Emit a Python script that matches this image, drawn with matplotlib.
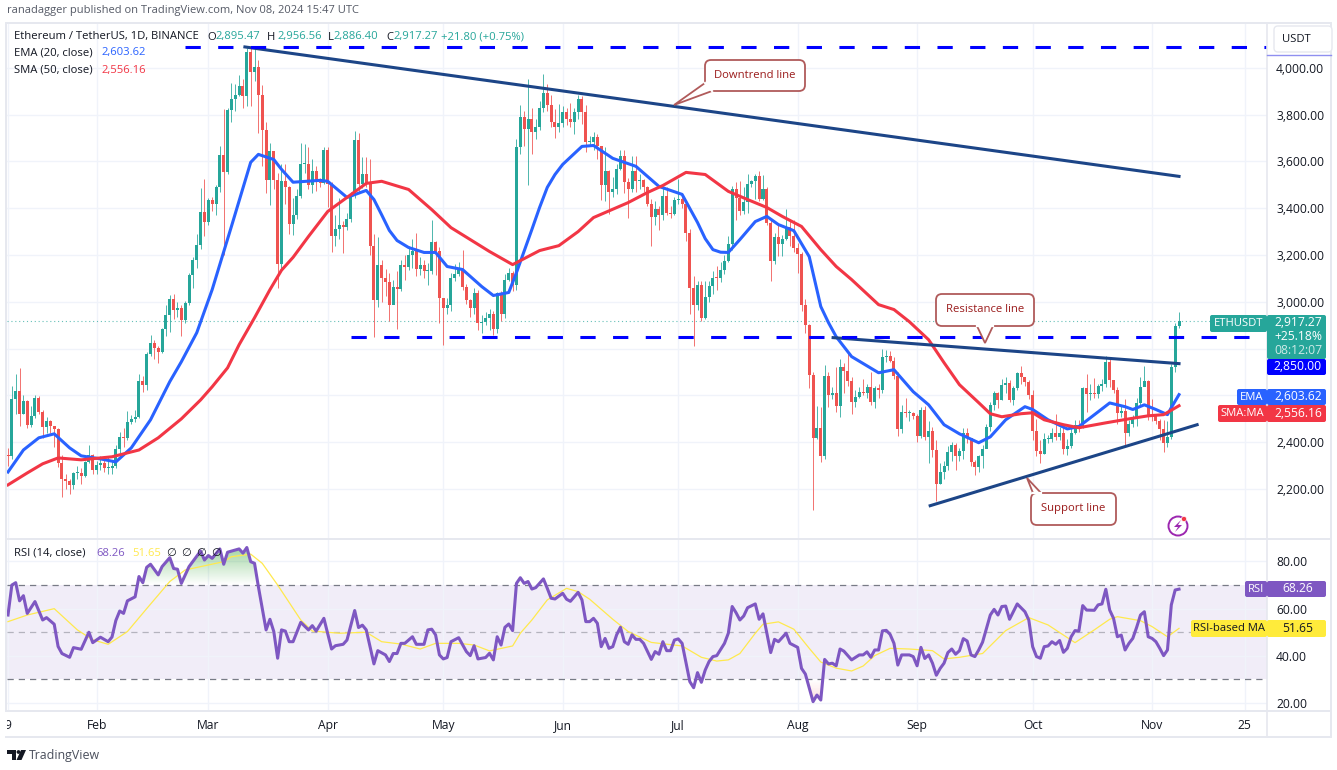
import matplotlib
matplotlib.use('Agg')
import matplotlib.pyplot as plt
from matplotlib.patches import FancyBboxPatch, Polygon, Rectangle, Circle
import numpy as np

plt.rcParams['font.family'] = ['Open Sans', 'DejaVu Sans']

# daily candles, day 0 = Jan 9 2024, one row per month
close = [
    2340, 2585, 2617, 2522, 2576, 2472, 2511, 2587, 2530, 2467, 2490, 2470, 2455, 2313, 2241, 2235, 2218, 2268, 2268, 2258, 2317, 2344, 2283,
    2305, 2311, 2289, 2291, 2300, 2373, 2424, 2420, 2487, 2501, 2507, 2660, 2643, 2778, 2825, 2803, 2786, 2882, 2945, 3014, 2967, 2972, 2923, 2994, 3114, 3178, 3243, 3385, 3341,
    3434, 3420, 3489, 3628, 3553, 3818, 3868, 3885, 3921, 3878, 4067, 3982, 4005, 3883, 3735, 3522, 3643, 3520, 3160, 3515, 3492, 3331, 3370, 3453, 3590, 3590, 3500, 3561, 3510, 3507, 3647,
    3505, 3280, 3312, 3330, 3320, 3352, 3455, 3693, 3503, 3546, 3505, 3240, 3007, 3157, 3101, 3085, 2985, 3064, 3056, 3157, 3148, 3201, 3219, 3139, 3157, 3130, 3133, 3257, 3217, 3015,
    2972, 2988, 3103, 3117, 3137, 3064, 3006, 2974, 3037, 2911, 2912, 2930, 2950, 2882, 3037, 2946, 3094, 3122, 3073, 3662, 3790, 3740, 3782, 3727, 3749, 3826, 3893, 3842, 3768, 3747, 3762,
    3813, 3780, 3768, 3811, 3866, 3811, 3681, 3682, 3705, 3666, 3498, 3560, 3470, 3481, 3566, 3622, 3510, 3483, 3560, 3516, 3520, 3490, 3420, 3361, 3397, 3370, 3451, 3378, 3375, 3435,
    3440, 3420, 3295, 3060, 2985, 3070, 2930, 3020, 3066, 3102, 3100, 3135, 3176, 3245, 3484, 3443, 3389, 3426, 3505, 3517, 3536, 3441, 3481, 3336, 3175, 3275, 3247, 3270, 3318, 3280, 3232,
    3203, 2987, 2902, 2688, 2420, 2461, 2342, 2682, 2600, 2610, 2555, 2723, 2703, 2662, 2570, 2592, 2615, 2612, 2636, 2572, 2630, 2623, 2763, 2768, 2746, 2682, 2457, 2529, 2527, 2527, 2513,
    2425, 2537, 2423, 2450, 2367, 2222, 2273, 2297, 2358, 2388, 2340, 2361, 2440, 2417, 2316, 2295, 2340, 2370, 2465, 2560, 2612, 2580, 2645, 2653, 2580, 2632, 2695, 2677, 2659, 2603,
    2447, 2364, 2350, 2414, 2415, 2440, 2422, 2440, 2370, 2385, 2440, 2475, 2470, 2630, 2607, 2611, 2605, 2642, 2647, 2745, 2665, 2622, 2525, 2535, 2438, 2480, 2507, 2568, 2638, 2660, 2518,
    2512, 2492, 2458, 2398, 2422, 2720, 2895.47, 2917.27,
]
high = [
    2375, 2640, 2690, 2716, 2600, 2580, 2555, 2600, 2598, 2540, 2510, 2495, 2465, 2460, 2345, 2265, 2245, 2275, 2300, 2290, 2320, 2390, 2352,
    2320, 2340, 2325, 2335, 2325, 2390, 2445, 2460, 2535, 2515, 2540, 2690, 2685, 2785, 2860, 2835, 2810, 2890, 2985, 3030, 3035, 3000, 2985, 3005, 3125, 3190, 3290, 3485, 3525,
    3445, 3450, 3500, 3665, 3825, 3830, 3935, 3930, 3970, 3950, 4085, 4093, 4085, 4035, 3925, 3770, 3680, 3615, 3550, 3590, 3590, 3495, 3445, 3480, 3680, 3675, 3660, 3610, 3580, 3530, 3660,
    3660, 3510, 3370, 3445, 3345, 3380, 3470, 3730, 3720, 3620, 3620, 3610, 3290, 3275, 3180, 3140, 3125, 3095, 3130, 3180, 3200, 3240, 3270, 3295, 3190, 3180, 3165, 3350, 3260, 3235,
    3015, 3015, 3125, 3160, 3170, 3220, 3075, 3010, 3060, 3050, 2945, 2955, 2970, 2960, 3040, 3045, 3120, 3145, 3130, 3695, 3840, 3815, 3950, 3830, 3780, 3860, 3975, 3930, 3885, 3825, 3845,
    3835, 3830, 3850, 3830, 3885, 3880, 3840, 3710, 3725, 3715, 3665, 3660, 3565, 3535, 3590, 3650, 3650, 3530, 3625, 3625, 3545, 3525, 3495, 3440, 3430, 3410, 3485, 3490, 3410, 3450,
    3525, 3465, 3425, 3310, 3110, 3090, 3090, 3090, 3090, 3130, 3155, 3170, 3200, 3280, 3495, 3510, 3515, 3490, 3545, 3520, 3545, 3560, 3540, 3490, 3355, 3295, 3330, 3285, 3395, 3355, 3350,
    3250, 3215, 3010, 2905, 2700, 2555, 2550, 2730, 2700, 2635, 2720, 2755, 2740, 2780, 2680, 2625, 2635, 2670, 2650, 2700, 2640, 2650, 2800, 2795, 2790, 2765, 2700, 2560, 2590, 2540, 2530,
    2520, 2550, 2555, 2490, 2465, 2410, 2310, 2320, 2385, 2400, 2395, 2375, 2460, 2460, 2415, 2325, 2345, 2390, 2480, 2570, 2620, 2615, 2670, 2680, 2665, 2640, 2700, 2725, 2670, 2665,
    2625, 2500, 2410, 2440, 2430, 2460, 2520, 2465, 2465, 2415, 2465, 2495, 2495, 2635, 2690, 2650, 2675, 2650, 2670, 2770, 2760, 2640, 2635, 2560, 2585, 2495, 2515, 2590, 2680, 2725, 2665,
    2585, 2520, 2500, 2495, 2490, 2735, 2910, 2956.56,
]
low = [
    2300, 2330, 2520, 2470, 2520, 2460, 2465, 2505, 2520, 2420, 2440, 2440, 2380, 2295, 2165, 2200, 2180, 2200, 2245, 2220, 2250, 2310, 2263,
    2265, 2280, 2275, 2265, 2265, 2290, 2355, 2380, 2410, 2480, 2485, 2505, 2615, 2625, 2770, 2755, 2740, 2780, 2855, 2870, 2925, 2935, 2855, 2910, 2985, 3060, 3145, 3225, 3280,
    3330, 3390, 3370, 3470, 3200, 3545, 3770, 3815, 3880, 3830, 3835, 3835, 3945, 3720, 3580, 3465, 3415, 3480, 3060, 3135, 3420, 3290, 3285, 3355, 3445, 3550, 3480, 3465, 3475, 3490, 3505,
    3405, 3215, 3240, 3270, 3210, 3305, 3340, 3445, 3465, 3485, 3490, 3200, 2850, 2980, 3000, 3025, 2920, 2990, 2885, 3045, 3095, 3135, 3145, 3110, 3115, 3100, 3070, 3120, 3115, 2910,
    2815, 2950, 2960, 3090, 3110, 3050, 2990, 2935, 2950, 2880, 2865, 2900, 2880, 2860, 2865, 2920, 2930, 3090, 3045, 3050, 3630, 3665, 3500, 3630, 3695, 3735, 3810, 3815, 3745, 3700, 3725,
    3745, 3755, 3745, 3715, 3780, 3760, 3640, 3665, 3650, 3610, 3435, 3430, 3375, 3450, 3460, 3565, 3465, 3360, 3470, 3470, 3480, 3470, 3410, 3240, 3330, 3305, 3350, 3370, 3360, 3370,
    3420, 3400, 3260, 2950, 2810, 2965, 2920, 2925, 3000, 3035, 3050, 3085, 3120, 3170, 3220, 3350, 3370, 3375, 3380, 3490, 3440, 3430, 3435, 3330, 3090, 3160, 3195, 3195, 3265, 3240, 3215,
    3125, 2960, 2865, 2630, 2111, 2415, 2315, 2330, 2550, 2585, 2530, 2510, 2610, 2640, 2520, 2550, 2590, 2600, 2590, 2560, 2545, 2590, 2610, 2745, 2745, 2670, 2425, 2440, 2510, 2490, 2500,
    2400, 2420, 2410, 2310, 2335, 2150, 2220, 2245, 2280, 2320, 2280, 2320, 2330, 2395, 2300, 2260, 2275, 2290, 2375, 2450, 2540, 2545, 2580, 2610, 2570, 2560, 2625, 2650, 2640, 2585,
    2410, 2340, 2310, 2350, 2395, 2400, 2410, 2410, 2350, 2345, 2375, 2435, 2445, 2460, 2530, 2580, 2590, 2590, 2620, 2635, 2635, 2610, 2480, 2510, 2380, 2425, 2465, 2470, 2560, 2640, 2495,
    2490, 2480, 2410, 2357, 2380, 2415, 2700, 2886.40,
]
first_open = 2346

ema_days = [0, 4, 8, 12, 16, 19, 24, 28, 32, 37, 42, 45, 49, 53, 58, 63, 65, 69, 71, 74, 81, 83, 88, 93, 95, 97, 99, 101, 104, 108, 111, 114, 118, 123, 126, 130, 132, 136, 138, 140, 142, 144, 149, 152, 157, 163, 169, 175, 179, 181, 183, 185, 187, 190, 194, 197, 200, 204, 208, 211, 213, 215, 219, 226, 230, 235, 239, 243, 247, 252, 255, 259, 264, 266, 270, 275, 278, 283, 286, 290, 292, 295, 298, 301, 302, 304]
ema_vals = [2273, 2367, 2419, 2436, 2376, 2342, 2329, 2316, 2376, 2496, 2659, 2744, 2868, 3052, 3322, 3596, 3630, 3608, 3566, 3511, 3519, 3515, 3446, 3476, 3437, 3372, 3305, 3262, 3232, 3211, 3211, 3151, 3138, 3065, 3027, 3040, 3125, 3309, 3403, 3489, 3544, 3587, 3664, 3668, 3613, 3579, 3493, 3459, 3339, 3270, 3223, 3212, 3211, 3266, 3343, 3365, 3330, 3304, 3193, 2980, 2911, 2851, 2766, 2697, 2710, 2616, 2560, 2475, 2436, 2398, 2423, 2496, 2552, 2540, 2496, 2457, 2467, 2530, 2568, 2552, 2540, 2560, 2540, 2518, 2548, 2603.62]
sma_days = [0, 5, 9, 13, 19, 27, 34, 39, 45, 50, 53, 57, 60, 64, 68, 71, 74, 78, 83, 88, 93, 97, 104, 110, 115, 120, 125, 131, 138, 143, 148, 152, 161, 166, 170, 176, 181, 187, 192, 197, 201, 206, 211, 215, 219, 226, 230, 234, 239, 243, 247, 252, 255, 258, 263, 266, 269, 274, 278, 285, 291, 296, 300, 304]
sma_vals = [2218, 2269, 2308, 2333, 2325, 2338, 2367, 2419, 2500, 2581, 2637, 2718, 2817, 2932, 3052, 3135, 3190, 3279, 3386, 3446, 3506, 3515, 3480, 3394, 3317, 3266, 3215, 3159, 3219, 3240, 3300, 3360, 3424, 3467, 3497, 3553, 3544, 3472, 3437, 3403, 3365, 3322, 3223, 3151, 3095, 2988, 2967, 2915, 2838, 2740, 2646, 2569, 2522, 2509, 2522, 2526, 2496, 2475, 2462, 2483, 2500, 2513, 2518, 2556.16]

rsi_days = [0, 1, 2, 3, 4, 5, 7, 9, 10, 12, 13, 14, 16, 17, 19, 21, 22, 24, 26, 27, 28, 29, 30, 31, 33, 34, 35, 36, 37, 39, 40, 42, 43, 44, 45, 46, 47, 50, 51, 52, 53, 55, 56, 57, 60, 61, 62, 63, 64, 65, 67, 68, 69, 70, 71, 72, 73, 74, 76, 78, 79, 80, 82, 84, 85, 87, 88, 90, 91, 92, 93, 95, 96, 98, 99, 100, 101, 102, 103, 105, 106, 108, 109, 110, 111, 112, 113, 114, 115, 117, 119, 120, 121, 122, 124, 125,
            126, 127, 128, 129, 130, 131, 132, 133, 134, 135, 136, 137, 139, 140, 141, 142, 144, 145, 146, 148, 149, 150, 151, 152, 153, 154, 155, 156, 157, 158, 159, 160, 161, 162, 163, 164, 165, 167, 168, 169, 170, 171, 172, 173, 174, 175, 177, 178, 179, 180, 181, 182, 183, 184, 186, 187, 188, 189, 190, 191, 192, 194, 195, 196, 197, 198, 199, 200, 202, 203, 205, 206, 207, 209, 210, 211,
            212, 213, 214, 215, 216, 217, 219, 221, 222, 223, 224, 225, 226, 227, 228, 229, 230, 231, 232, 234, 235, 236, 237, 238, 239, 240, 241, 242, 243, 244, 245, 246, 247, 248, 249, 250, 251, 252, 253, 255, 256, 257, 258, 259, 260, 262, 264, 265, 266, 267, 268, 269, 270, 271, 272, 273, 274, 275, 276, 277, 278, 279, 280, 282, 283, 284, 285, 286, 287, 288, 289, 290, 291, 292, 293, 294, 295, 296, 297, 298, 299, 300, 301, 302, 303, 304]
rsi_vals = [57.3, 70, 71, 63.3, 65.5, 58, 63, 55.2, 56.2, 53.4, 44, 41, 39.4, 43.5, 42.8, 50, 45.6, 47.9, 46, 48, 55, 59, 58, 63.3, 65, 73.6, 71, 77.5, 78.8, 74.3, 77.8, 81.6, 77, 76.7, 70.7, 74.3, 77.8, 84.4, 80.6, 82.5, 81.3, 85.3, 78.8, 83.9, 85.3, 83.5, 85.9, 79.9, 79.2, 69.3, 51, 55.5, 50.3, 39, 51, 50.5, 46, 46, 54.2, 51, 52.8, 50.5, 55.9, 42.9, 44.3, 44.9, 46.7, 59.2, 52, 53, 51, 36.6, 42.2, 40.4, 37.6, 41, 41, 45.3, 45.3, 48.1, 44.9, 44.9, 51, 51.3, 48.9, 40.4, 38.7, 39.3, 46, 47.7, 41.8, 40.1, 44.3, 38.7, 39.3, 41.1,
            38.3, 48.1, 44.6, 52.1, 53.5, 50.7, 70.7, 73.1, 70.7, 71.5, 68.3, 68.9, 72.6, 68.6, 64.4, 64.1, 66.5, 64, 63.1, 66.9, 63.7, 54.5, 54.5, 55.9, 53.8, 43.9, 47.4, 43.2, 43.9, 48.9, 52.1, 46, 44.9, 48.9, 47, 47, 45.3, 38.5, 41.8, 40.7, 46, 42.2, 42.2, 46.7, 47.2, 45.3, 29.1, 26.5, 32.9, 28.8, 34, 37.6, 39.7, 40.1, 45.3, 49.6, 60.9, 58.3, 55.2, 56.9, 60.4, 62, 55.5, 57.8, 49.6, 41.4, 47, 46, 49.6, 45.3, 43.6, 34.7, 32.3, 20.6, 23.4, 21.3,
            38.5, 36.6, 36.9, 35.8, 42.9, 42, 38.3, 40.4, 40.4, 41.7, 39.4, 42.5, 42.5, 50.6, 50.8, 49.1, 45.3, 36.1, 40.4, 40.4, 39.7, 35.8, 43.6, 38.9, 40.4, 36.9, 31.8, 34.7, 36.9, 41.4, 42.9, 40.7, 42.2, 47.3, 46.3, 40.4, 39.7, 42.5, 45.8, 57.3, 59.7, 57.3, 60.9, 61.1, 55.5, 62, 58.7, 55.2, 43.9, 39.7, 39, 43.9, 44.2, 46, 44.9, 46.5, 41.5, 43.2, 48.1, 50.7, 50.5, 61.3, 59.4, 59.3, 61.6, 62, 68.2, 59.4, 55.9, 48.1, 48.8, 42.5, 45.3, 47.4, 52.1, 57.3, 58.7, 48.1, 47.4, 46, 43.2, 40.1, 42.5, 61.6, 67.9, 68.26]
rsi_ma_days = [0, 5, 12, 14, 18, 22, 26, 31, 36, 42, 46, 50, 56, 58, 63, 66, 70, 76, 79, 86, 93, 97, 102, 107, 111, 117, 121, 125, 131, 133, 136, 140, 145, 148, 151, 157, 161, 167, 175, 180, 184, 187, 190, 194, 196, 200, 204, 208, 211, 215, 219, 222, 225, 229, 234, 240, 243, 247, 253, 259, 265, 270, 277, 282, 286, 288, 294, 297, 301, 304]
rsi_ma_vals = [54.5, 57.3, 60, 57, 51, 46.8, 44.9, 50.3, 60, 71.5, 76.4, 77.8, 79.9, 82, 83.1, 79.2, 70, 55.2, 50.5, 49.6, 50, 46, 45, 42.9, 45.3, 45.3, 44.6, 42.1, 44.2, 49.6, 55.2, 63.7, 68.6, 67.2, 64, 55.5, 50.3, 45.7, 44.2, 39.4, 37.8, 38.3, 41, 49.6, 53.4, 54.4, 51.3, 43.2, 37.4, 34.8, 33.6, 35.7, 40.1, 43.2, 42.9, 42.2, 38.7, 39.4, 41, 50.7, 56.2, 53.1, 45.6, 51, 55.5, 56.6, 54.9, 52.4, 48.1, 51.65]

price_ticks = [2200, 2400, 2600, 2800, 3000, 3200, 3400, 3600, 3800, 4000]
price_labels = ['2,200.00', '2,400.00', '', '', '3,000.00', '3,200.00', '3,400.00', '3,600.00', '3,800.00', '4,000.00']
rsi_ticks = [20, 40, 60, 80]
month_days = [0, 23, 52, 83, 113, 144, 174, 205, 236, 266, 297, 321]
month_labels = ['9', 'Feb', 'Mar', 'Apr', 'May', 'Jun', 'Jul', 'Aug', 'Sep', 'Oct', 'Nov', '25']

# levels and trend lines drawn on the chart
top_level = 4088
resistance_level = 2850
downtrend_days, downtrend_vals = [61.5, 304], [4089, 3536]
resistance_days, resistance_vals = [214.2, 304], [2847, 2736]
support_days, support_vals = [239.4, 308.7], [2129, 2475]

GREEN, RED = '#26a69a', '#ef5350'
EMA_C, SMA_C, RSI_C = '#2962ff', '#f23645', '#7e57c2'
TREND_C, LEVEL_C = '#1c4587', '#0000ff'
GRID_C, FRAME_C = '#f0f3fa', '#e6e8ef'
TEXT_C = '#131722'
W, H = 1337, 770


def px_axes(x0, y0, x1, y1):
    return fig.add_axes([x0 / W, 1 - y1 / H, (x1 - x0) / W, (y1 - y0) / H])


fig = plt.figure(figsize=(W / 100, H / 100), dpi=100, facecolor='white')
ax = px_axes(7, 24, 1267, 538)
ax_rsi = px_axes(7, 539, 1267, 711)

close = np.array(close, dtype=float)
high = np.array(high, dtype=float)
low = np.array(low, dtype=float)
opn = np.concatenate([[first_open], close[:-1]])
days = np.arange(len(close))
colors = np.where(close >= opn, GREEN, RED)

ax.vlines(days, low, high, colors=colors, lw=0.72, alpha=0.8, zorder=2)
ax.bar(days, np.maximum(np.abs(close - opn), 4), bottom=np.minimum(close, opn), width=0.78, color=colors, lw=0, zorder=3)
ax.plot(ema_days, ema_vals, color=EMA_C, lw=2.2, zorder=4)
ax.plot(sma_days, sma_vals, color=SMA_C, lw=2.2, zorder=4)
ax.axhline(close[-1], color=GREEN, lw=0.8, ls=(0, (1, 2.5)), alpha=0.7, zorder=1)
ax.plot(downtrend_days, downtrend_vals, color=TREND_C, lw=2.2, zorder=5)
ax.plot(resistance_days, resistance_vals, color=TREND_C, lw=2.2, zorder=5)
ax.plot(support_days, support_vals, color=TREND_C, lw=2.2, zorder=5)
ax.plot([46, 327], [top_level, top_level], color=LEVEL_C, lw=2.2, ls=(0, (5, 5.7)), zorder=6)
ax.plot([89, 327], [resistance_level, resistance_level], color=LEVEL_C, lw=2.2, ls=(0, (5, 5.7)), zorder=6)

ax.set_xlim(-0.26, 326.84)
ax.set_ylim(1991, 4187)
ax.set_yticks(price_ticks)
ax.set_yticklabels(price_labels)
ax.yaxis.tick_right()
ax.set_xticks(month_days)
ax.tick_params(axis='x', length=0, labelbottom=False)
ax.tick_params(axis='y', length=0, labelsize=8.7, labelcolor=TEXT_C, pad=6.5)
ax.grid(color=GRID_C, lw=1)
ax.set_axisbelow(True)

# RSI pane
ax_rsi.axhspan(30, 70, color=RSI_C, alpha=0.1, lw=0, zorder=0)
ax_rsi.axhline(70, color='#787b86', lw=0.9, ls=(0, (5, 4)), zorder=1)
ax_rsi.axhline(50, color='#787b86', lw=0.9, ls=(0, (5, 4)), alpha=0.5, zorder=1)
ax_rsi.axhline(30, color='#787b86', lw=0.9, ls=(0, (5, 4)), zorder=1)

# overbought / oversold gradients, clipped to the area past the RSI line
for level, far, rgb, peak in [(70, 88, (0.3, 0.69, 0.31), 0.6), (30, 20, (0.95, 0.3, 0.3), 0.2)]:
    if level == 70:
        edge = np.maximum(rsi_vals, level)
    else:
        edge = np.minimum(rsi_vals, level)
    poly = Polygon(np.column_stack([np.r_[rsi_days, rsi_days[::-1]], np.r_[edge, np.full(len(edge), level)]]),
                   transform=ax_rsi.transData, fc='none', ec='none')
    ax_rsi.add_patch(poly)
    grad = np.zeros((64, 2, 4))
    grad[..., :3] = rgb
    grad[..., 3] = np.linspace(peak, 0, 64)[:, None]
    im = ax_rsi.imshow(grad, extent=[0, 304, level, far], aspect='auto', zorder=2)
    im.set_clip_path(poly)
ax_rsi.set_xlim(-0.26, 326.84)
ax_rsi.set_ylim(16.65, 89.5)

ax_rsi.plot(rsi_ma_days, rsi_ma_vals, color='#ffe94d', lw=0.9, zorder=3)
ax_rsi.plot(rsi_days, rsi_vals, color=RSI_C, lw=2.2, zorder=4)
ax_rsi.set_yticks(rsi_ticks)
ax_rsi.set_yticklabels(['20.00', '40.00', '60.00', '80.00'])
ax_rsi.yaxis.tick_right()
ax_rsi.set_xticks(month_days)
ax_rsi.set_xticklabels(month_labels)
ax_rsi.tick_params(axis='x', length=0, labelsize=8.7, labelcolor=TEXT_C, pad=6)
ax_rsi.tick_params(axis='y', length=0, labelsize=8.7, labelcolor=TEXT_C, pad=6.5)
ax_rsi.grid(color=GRID_C, lw=1)
ax_rsi.set_axisbelow(True)
for a in (ax, ax_rsi):
    for s in a.spines.values():
        s.set_visible(False)

# overlay in picture pixels for the frame, legends, tags and callouts
ov = fig.add_axes([0, 0, 1, 1], zorder=10)
ov.set_xlim(0, W)
ov.set_ylim(H, 0)
ov.axis('off')


def label(x, y, s, color=TEXT_C, size=8.1, ha='left', **kw):
    ov.text(x, y, s, color=color, fontsize=size, ha=ha, va='center', **kw)


def tag(x0, x1, y0, y1, color):
    ov.add_patch(FancyBboxPatch((x0, y0), x1 - x0, y1 - y0, boxstyle='round,pad=0,rounding_size=2', fc=color, ec='none', zorder=3))


def callout(x0, y0, x1, y1, pointer, base, text):
    ov.add_patch(FancyBboxPatch((x0, y0), x1 - x0, y1 - y0, boxstyle='round,pad=0,rounding_size=6', fc='white', ec='#b05a5a', lw=1.3, zorder=6))
    ov.add_patch(Polygon([base[0], pointer, base[1]], closed=False, fc='white', ec='#b05a5a', lw=1.3, zorder=7))
    ov.plot([base[0][0], base[1][0]], [base[0][1], base[1][1]], color='white', lw=1.6, zorder=8)
    label((x0 + x1) / 2, (y0 + y1) / 2, text, color='#9b1c1c', ha='center', zorder=9)


# frame
ov.add_patch(Rectangle((6, 23), 1325, 714, fc='none', ec=FRAME_C, lw=1.4))
ov.plot([6, 1331], [538.5, 538.5], color=FRAME_C, lw=1.4)
ov.plot([6, 1331], [711, 711], color=FRAME_C, lw=1.4)
ov.plot([1267, 1267], [23, 737], color=FRAME_C, lw=1.2)
ov.add_patch(Rectangle((0, 712), 6.5, 24, fc='white', ec='none', zorder=5))

# header and legends
label(7, 10.5, 'ranadagger published on TradingView.com, Nov 08, 2024 15:47 UTC', color='#555a66', size=8.05)
label(14, 37, 'Ethereum / TetherUS, 1D, BINANCE')
for x, s, x2, v in [(207, 'O', 215, '2,895.47'), (267, 'H', 277, '2,956.56'), (328, 'L', 334, '2,886.40'), (386, 'C', 393, '2,917.27')]:
    label(x, 37, s)
    label(x2, 37, v, color=GREEN)
label(441, 37, '+21.80 (+0.75%)', color=GREEN)
label(14, 53, 'EMA (20, close)')
label(102, 53, '2,603.62', color=EMA_C)
label(14, 70, 'SMA (50, close)')
label(101, 70, '2,556.16', color=SMA_C)
label(14, 553, 'RSI (14, close)')
label(96, 553, '68.26', color=RSI_C)
label(132, 553, '51.65', color='#ffe94d')
for x in [171, 186, 201, 216]:
    label(x, 553, '\u2205', ha='center')

# callouts
callout(705, 60, 805, 91, (674, 105), ((705, 83), (712, 91)), 'Downtrend line')
callout(936, 294, 1034, 326, (985, 343), ((977, 326), (993, 326)), 'Resistance line')
callout(1031, 493, 1116, 525, (1027, 478), ((1033, 493), (1041, 493)), 'Support line')

# price scale tags
ov.add_patch(FancyBboxPatch((1274, 26), 58, 26, boxstyle='round,pad=0,rounding_size=4', fc='white', ec='#e6e8ef', lw=1))
label(1296, 39, 'USDT', ha='center')
ov.plot([1267, 1331], [55, 55], color='#8f8ff0', lw=1)

tag(1210, 1267, 315, 332, GREEN)
tag(1267, 1326, 315, 359, GREEN)
tag(1267, 1326, 359, 375, LEVEL_C)
tag(1237, 1267, 389, 405, EMA_C)
tag(1267, 1326, 389, 405, EMA_C)
tag(1218, 1267, 405, 422, SMA_C)
tag(1267, 1326, 405, 422, SMA_C)
tag(1245, 1267, 581, 597, RSI_C)
tag(1267, 1326, 581, 597, RSI_C)
tag(1191, 1267, 620, 637, '#ffeb3b')
tag(1267, 1326, 620, 637, '#ffeb3b')
label(1238.5, 323.5, 'ETHUSDT', color='white', ha='center', zorder=5)
label(1298, 323, '2,917.27', color='white', size=8.7, ha='center', zorder=5)
label(1298, 337, '+25.18%', color='white', size=8.7, ha='center', zorder=5)
label(1298, 351, '08:12:07', color='#cdeae7', size=8.7, ha='center', zorder=5)
label(1298, 367, '2,850.00', color='white', size=8.7, ha='center', zorder=5)
label(1252, 397, 'EMA', color='white', ha='center', zorder=5)
label(1298, 397, '2,603.62', color='white', size=8.7, ha='center', zorder=5)
label(1242.5, 413.5, 'SMA:MA', color='white', ha='center', zorder=5)
label(1298, 413.5, '2,556.16', color='white', size=8.7, ha='center', zorder=5)
label(1256, 589, 'RSI', color='white', ha='center', zorder=5)
label(1298, 589, '68.26', color='white', size=8.7, ha='center', zorder=5)
label(1229, 628.5, 'RSI-based MA', ha='center', zorder=5)
label(1298, 628.5, '51.65', size=8.7, ha='center', zorder=5)

# flash icon
ov.add_patch(Circle((1178, 526), 9.5, fc='white', ec='#9c27b0', lw=1.4, zorder=5))
ov.add_patch(Polygon([(1181, 520), (1174, 527), (1178, 527), (1175, 532), (1182, 525), (1178, 525)], fc='#9c27b0', ec='none', zorder=6))
ov.add_patch(Circle((1184, 519), 2.6, fc='#f23645', ec='white', lw=0.5, zorder=7))

# logo and footer
ov.add_patch(Polygon([(7, 750), (16, 750), (16, 760), (12, 760), (12, 754), (7, 754)], fc='#131722', ec='none'))
ov.add_patch(Circle((18.5, 752), 1.9, fc='#131722', ec='none'))
ov.add_patch(Polygon([(21, 750), (26, 750), (21.5, 760), (16.5, 760)], fc='#131722', ec='none'))
label(29, 755.5, 'TradingView', color='#4a4f5c', size=8.9, fontweight='medium')

fig.savefig('out.png', dpi=100)
